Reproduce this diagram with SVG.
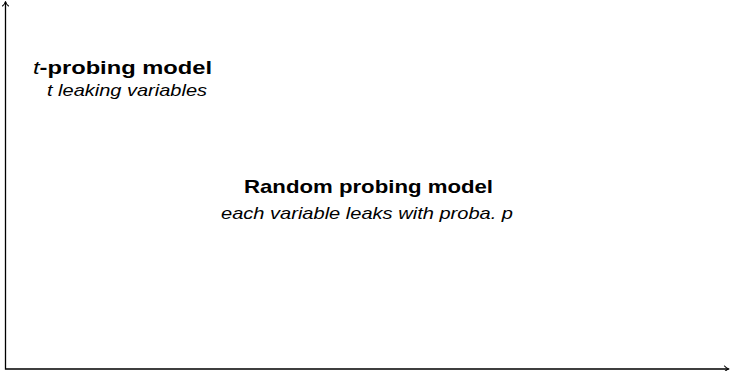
<svg xmlns="http://www.w3.org/2000/svg" width="730" height="371" viewBox="0 0 730 371">
<style>
.t{font-family:"Liberation Sans","DejaVu Sans",sans-serif;fill:#000}
.b{font-weight:bold;font-size:19px}
.i{font-style:italic;font-size:17px}
.ax{stroke:#000;stroke-width:1.3;fill:none}
.ah{stroke:#000;stroke-width:1.1;fill:none;stroke-linecap:round;stroke-linejoin:round}
</style>
<g id="axes">
<path class="ax" d="M5.5,2 V369 H728.5"/>
<path class="ah" d="M2.5,6 Q5,4 5.5,1.5 Q6,4 8.5,6"/>
<path class="ah" d="M724.5,366 Q726.5,368.5 729,369 Q726.5,369.5 724.5,372"/>
</g>
<g id="tprobing">
<text class="t b" x="33" y="74" textLength="179" lengthAdjust="spacingAndGlyphs"><tspan font-style="italic" font-weight="normal">t</tspan>-probing model</text>
<text class="t i" x="47" y="96" textLength="160" lengthAdjust="spacingAndGlyphs">t leaking variables</text>
</g>
<g id="random">
<text class="t b" x="244" y="193" textLength="249" lengthAdjust="spacingAndGlyphs">Random probing model</text>
<text class="t i" x="221" y="219" textLength="292" lengthAdjust="spacingAndGlyphs">each variable leaks with proba.  p</text>
</g>
</svg>
